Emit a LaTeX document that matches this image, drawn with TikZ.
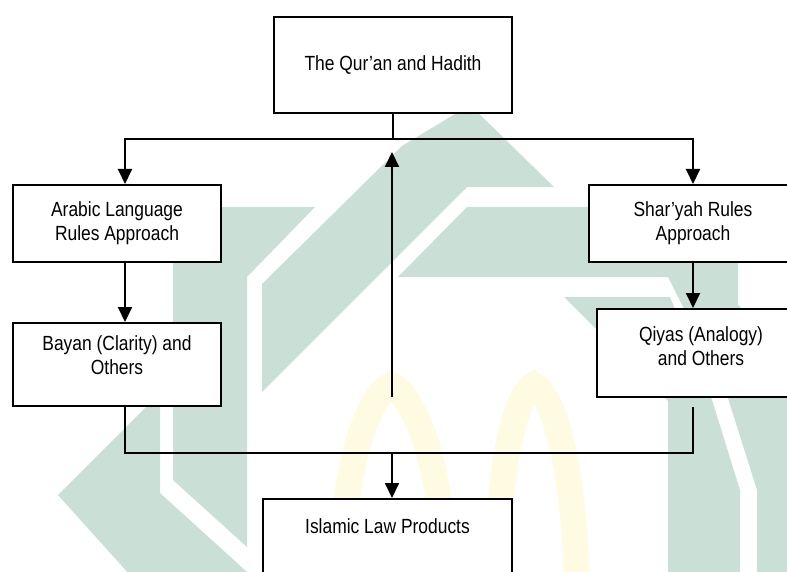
\documentclass[tikz,border=0pt]{standalone}
\usepackage{fontspec}
\setmainfont{Liberation Sans}[FakeStretch=0.85]
\usetikzlibrary{arrows.meta,positioning}

\definecolor{wmgreen}{RGB}{202,223,213}
\definecolor{wmyellow}{RGB}{255,251,227}

\begin{document}
\begin{tikzpicture}[x=1pt,y=-1pt]
\tikzstyle{every path}=[line width=2pt]

\tikzstyle{flowbox}=[draw,fill=white,align=center,inner sep=0pt,
  font=\fontsize{20.5}{24}\selectfont]
\tikzstyle{flow}=[-{Triangle[width=14pt,length=15pt]}]

\useasboundingbox (0,0) rectangle (787,572);

%% Watermark in the background
\fill[wmgreen] (470,105) -- (554,187) -- (467,187) -- (262,392) -- (262,284) -- (402,146) -- cycle;
\fill[wmgreen] (173,207) -- (315,207) -- (247,277) -- (247,547) -- (173,480) -- cycle;
\fill[wmgreen] (58,495) -- (160,393) -- (160,493) -- (247,572) -- (262,575) -- (130,575) -- cycle;
\fill[wmgreen] (467,207) -- (738,207) -- (738,305) -- (795,362) -- (795,575) -- (757,575)
  -- (757,490) -- (727,395) -- (668,277) -- (398,277) -- cycle;
\fill[wmgreen] (564,297) -- (670,297) -- (712,400) -- (740,490) -- (740,575) -- (668,575)
  -- (668,401) -- cycle;
\draw[wmyellow,line width=26pt] (340,580) .. controls (345,440) and (375,392) .. (391,385)
  .. controls (407,392) and (440,440) .. (447,580);
\draw[wmyellow,line width=26pt] (496,580) .. controls (500,440) and (520,392) .. (534,385)
  .. controls (548,392) and (572,440) .. (577,580);

%% Boxes
\node[flowbox,minimum width=238pt,minimum height=96pt] (quran) at (393,65) {The Qur’an and Hadith};
\node[flowbox,minimum width=208pt,minimum height=77pt] (arabic) at (117,223.5) {Arabic Language\\Rules Approach};
\node[flowbox,minimum width=208pt,minimum height=77pt] (sharia) at (693,223.5) {Shar’yah Rules\\Approach};
\node[flowbox,minimum width=208pt,minimum height=83pt] (bayan) at (117,364.5) {Bayan (Clarity) and\\Others\\[-6pt]};
\node[flowbox,minimum width=208pt,minimum height=88pt] (qiyas) at (701,353) {Qiyas (Analogy)\\and Others\\[-10pt]};
\node[flowbox,minimum width=249pt,inner ysep=6pt,text height=28pt,text depth=60pt,anchor=north]
  (products) at (387.5,498) {Islamic Law Products};

%% Connectors
\draw (quran.south) -- ++(0,25) coordinate (split);
\draw[flow] (split) -| ([xshift=8pt]arabic.north);
\draw[flow] (split) -| (sharia.north);
\draw[flow] ([xshift=8pt]arabic.south) -- ([xshift=8pt]bayan.north);
\draw[flow] (sharia.south) -- (sharia.south |- qiyas.north);

\coordinate (back) at (392,397);
\draw[flow] (back) -- (back |- 0,152);

\coordinate (merge) at (392,453);
\draw ([xshift=8pt]bayan.south) |- (merge) -| ([yshift=-9pt]sharia.south |- qiyas.south);
\draw[flow] (merge) -- (merge |- products.north);
\end{tikzpicture}
\end{document}
